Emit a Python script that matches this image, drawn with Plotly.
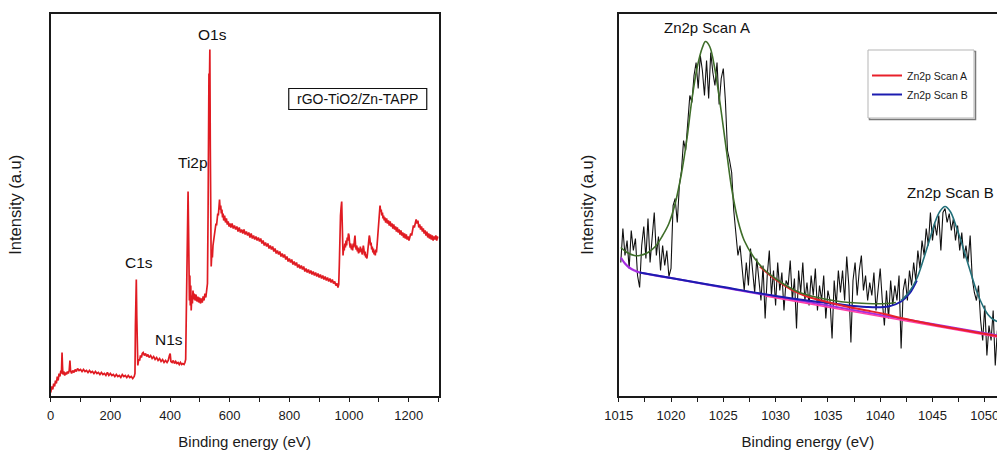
import numpy as np
import plotly.graph_objects as go

FONT = "Liberation Sans, Arial, sans-serif"

# ---------------- Survey spectrum: rGO-TiO2/Zn-TAPP ----------------
survey_energy = [
    0, 4, 7, 10, 13, 16, 19, 22, 25, 28, 31, 34, 36, 38, 39.5, 41, 44, 47, 50, 53, 56, 59, 62, 64.5, 66.5,
    70, 74, 78, 82, 86, 90, 95, 100, 105, 110, 115, 120, 125, 130, 135, 140, 145, 150, 155, 160, 165, 170,
    175, 180, 185, 190, 195, 200, 205, 210, 215, 220, 225, 230, 235, 240, 245, 250, 255, 260, 265, 270, 275,
    280, 282.5, 284, 285.5, 287, 288.5, 290, 292, 295, 298, 301, 304, 307, 310, 314, 318, 322, 326, 330, 335,
    340, 345, 350, 355, 360, 365, 370, 375, 380, 385, 390, 394, 398, 400.5, 403, 407, 411, 415, 419, 423,
    427, 431, 435, 439, 443, 447, 450, 452.5, 454.5, 456.5, 458.5, 460.5, 462, 463.5, 465, 466.5, 468, 469.5,
    471, 473, 475, 477, 479, 481, 484, 487, 490, 493, 496, 499, 502, 505, 508, 511, 514, 517, 520, 523,
    525.5, 527.5, 529, 530.5, 532, 533.5, 535, 536.5, 538, 540, 542, 544, 546, 548, 550, 552, 554, 556, 558,
    560, 562, 564, 566, 568, 570, 572, 574, 576, 578, 580, 583, 586, 589, 592, 595, 598, 601,
    604, 608, 612, 616, 620, 624, 628, 632, 636, 640, 644, 648, 652, 656, 660, 664, 668, 672, 676, 680,
    684, 688, 692, 696, 700, 704, 708, 712, 716, 720, 724, 728, 732, 736, 740, 744, 748, 752, 756, 760,
    764, 768, 772, 776, 780, 784, 788, 792, 796, 800, 804, 808, 812, 816, 820, 824, 828, 832, 836, 840,
    844, 848, 852, 856, 860, 864, 868, 872, 876, 880, 884, 888, 892, 896, 900, 904, 908, 912, 916, 920,
    924, 928, 932, 936, 940, 944, 948, 952, 956, 960, 963, 965.5,
    967.5, 969.5, 971.5, 973.5, 975.5, 977, 978.5, 980, 982, 984, 986, 988, 990, 992, 994, 996, 998, 1000,
    1002, 1004, 1006, 1008, 1010, 1012, 1014, 1016, 1018, 1020, 1022, 1024, 1026, 1028, 1030, 1032, 1034,
    1036, 1038, 1040, 1042, 1044, 1046, 1048, 1050, 1052, 1054, 1056, 1058, 1060, 1062, 1064, 1066, 1068,
    1070, 1072, 1074, 1076, 1078, 1080, 1082, 1084, 1086, 1088, 1090, 1092, 1094, 1096, 1098, 1100, 1102,
    1104, 1106, 1108, 1110, 1112, 1114, 1116, 1118, 1120, 1123, 1126, 1129, 1132, 1135, 1138, 1141, 1144,
    1147, 1150, 1153, 1156, 1159, 1162, 1165, 1168, 1171, 1174, 1177, 1180, 1183, 1186, 1189, 1192, 1195,
    1198, 1201, 1204, 1207, 1210, 1213, 1216, 1219, 1222, 1225, 1228, 1231, 1234, 1237, 1240, 1243, 1246,
    1249, 1252, 1255, 1258, 1261, 1264, 1267, 1270, 1273, 1276, 1279, 1282, 1285, 1288, 1291, 1294, 1297,
    1300,
]
survey_intensity = [
    3, 9, 6, 12, 9, 15, 12, 19, 15, 22, 19, 25, 22, 43, 30, 21, 24, 20, 23, 21, 24, 22, 25, 35, 25,
    22, 25, 23, 26, 24, 27, 25, 26, 24, 26, 24, 25, 23, 25, 23, 24, 22, 24, 22, 23, 21, 23,
    21, 22, 20, 23, 20, 22, 20, 21, 19, 21, 19, 20, 18, 21, 19, 20, 18, 20, 18, 19, 17,
    19, 22, 70, 110, 116, 80, 45, 30, 36, 35, 40, 38, 42, 43, 40, 42, 39, 41, 38, 40,
    37, 39, 36, 38, 35, 37, 34, 36, 33, 35, 33, 35, 40, 42, 34, 33, 35, 32, 34, 32,
    33, 31, 33, 31, 32, 31, 33, 36, 80, 150, 190, 204, 170, 115, 95, 120, 90, 110,
    85, 100, 92, 105, 96, 102, 95, 101, 94, 99, 93, 98, 92, 97, 93, 99, 95, 102, 98, 104,
    112, 180, 300, 322, 310, 346, 250, 150, 129, 142, 138, 150, 155, 160, 165, 168, 172, 170, 178,
    182, 180, 190, 196, 186, 190, 182, 186, 178, 182, 175, 180, 173, 177, 171, 174, 169, 172,
    168, 172, 167, 170, 166, 169, 164, 168, 163, 166, 162, 166, 161, 164, 160, 163, 158, 162, 157, 160,
    156, 159, 155, 158, 154, 157, 152, 155, 150, 153, 149, 152, 147, 150, 146, 149, 144, 147, 142, 145,
    141, 144, 139, 142, 138, 141, 136, 139, 134, 137, 133, 136, 131, 134, 130, 133, 128, 131, 127, 130,
    126, 129, 124, 127, 123, 126, 122, 125, 121, 124, 120, 123, 119, 122, 118, 121, 117, 120, 116, 119,
    115, 118, 114, 117, 113, 116, 112, 114, 110, 112, 108, 111,
    130, 165, 180, 188, 194, 175, 150, 140, 148, 145, 152, 148, 155, 150, 158, 155, 162, 160,
    152, 148, 152, 146, 150, 145, 152, 148, 155, 160, 150, 146, 150, 144, 148, 142, 147,
    143, 149, 144, 147, 141, 145, 150, 146, 140, 144, 138, 141, 137, 142, 148, 155, 160,
    157, 150, 153, 146, 149, 143, 147, 141, 145, 140, 146, 143, 150, 158, 165, 175, 183,
    190, 184, 186, 180, 183, 177, 180, 175, 178, 173, 177, 172, 175, 170, 174, 169, 172,
    167, 171, 166, 169, 164, 168, 163, 166, 161, 165, 160, 163, 158, 162, 157, 161, 156,
    159, 155, 158, 162, 160, 166, 170, 168, 174, 176, 172, 175, 168, 171, 166, 169, 164,
    167, 162, 165, 160, 164, 158, 162, 157, 161, 156, 160, 155, 159, 156, 160, 155, 159,
    157,
]

survey_labels = ["O1s", "Ti2p", "C1s", "N1s"]
survey_label_x = [544, 476, 296, 396]
survey_label_y = [361, 233, 133, 56]

# ---------------- Zn2p high-resolution scan ----------------
scan_start, scan_step = 1015.2, 0.2
zn_counts = [
    133, 167, 140, 155, 127, 165, 145, 157, 120, 108, 150, 169, 137, 177, 133, 163, 183, 140, 159, 125,
    150, 130, 145, 119, 127,
    190, 197, 173, 210, 225,
    255, 245, 277, 300, 293,
    320, 333, 307, 340, 325,
    300, 335, 297, 343, 323,
    310, 333, 291, 317, 327,
    295, 245, 235, 223, 185,
    163, 140, 150, 127, 105,
    133, 110, 147, 125, 103,
    137, 115, 95, 130, 77,
    120, 145, 100, 125, 90,
    133, 105, 123, 85, 115,
    110, 135, 95, 117, 67,
    125, 103, 133, 95, 113,
    90, 120, 100, 127, 85,
    110, 95, 120, 77, 105,
    95, 57, 115, 90, 125,
    103, 125, 95, 139, 110,
    53, 115, 133, 100, 125,
    140, 105, 120, 95, 113,
    100, 123, 85, 107, 127,
    95, 70, 105, 77, 115,
    90, 110, 95, 120, 47,
    105, 117, 95, 125, 110,
    133, 115, 145, 127, 155,
    140, 167, 150, 183, 155,
    173, 160, 180, 145, 183,
    187, 173, 182, 165, 177,
    155, 170, 145, 163, 137,
    150, 133, 160, 117, 103,
    95, 110, 75, 55, 90,
    40, 70, 55, 85, 30, 65,
]
zn_energy = np.round(scan_start + scan_step * np.arange(len(zn_counts)), 1)

# fitted envelope of peak A
fit_a_energy = [1015.2, 1015.8, 1016.5, 1017.0, 1017.8, 1018.5, 1019.2, 1019.8, 1020.4, 1021.0, 1021.5,
                1022.0, 1022.5, 1023.0, 1023.3, 1023.7, 1024.2, 1024.8, 1025.3, 1025.8, 1026.4, 1027.0,
                1028.0, 1029.0, 1030.0, 1031.0, 1032.3, 1034.0, 1035.5, 1037.0, 1038.7, 1040.6, 1041.5]
fit_a_counts = [148, 143, 140, 140, 143, 149, 160, 172, 192, 222, 255,
                296, 328, 348, 354, 349, 326, 284, 245, 207, 175, 155,
                137, 125, 117, 110, 103, 98, 95, 93, 92, 92, 93]

# fitted envelope of peak B
fit_b_energy = [1042.0, 1042.8, 1043.5, 1044.1, 1044.7, 1045.2, 1045.7, 1046.2, 1046.7, 1047.3, 1047.8,
                1048.3, 1048.8, 1049.3, 1049.8, 1050.3, 1050.8, 1051.2]
fit_b_counts = [95, 104, 117, 135, 155, 172, 184, 189, 184, 168, 152,
                135, 118, 102, 90, 81, 76, 74]

# Shirley-type backgrounds
bg_energy = [1015.2, 1015.6, 1016.0, 1016.5, 1017.0, 1020.0, 1025.0, 1030.0, 1035.0, 1040.0, 1045.0, 1051.2]
bg_counts = [138, 132, 128, 125, 123, 117.5, 108, 99, 90, 80.5, 71.5, 60]
bg2_energy = [1029.0, 1035.0, 1040.0, 1045.0, 1051.2]
bg2_counts = [99.5, 88.5, 79, 70, 58.5]

# component curves (Scan A / Scan B)
comp_a_energy = [1028.5, 1030.0, 1031.5, 1033.0, 1034.0, 1035.5, 1037.2, 1038.7, 1040.4, 1042.0, 1045.0, 1051.2]
comp_a_counts = [129, 116, 106, 99, 96, 92, 88, 85, 81.5, 77.5, 71, 59.5]
comp_b_energy = [1017.0, 1020.0, 1025.0, 1030.0, 1033.0, 1035.5, 1038.7, 1040.8, 1042.0, 1042.8, 1043.5]
comp_b_counts = [123, 117.5, 108.5, 99.5, 95, 92, 88.5, 89, 94, 102, 115]

zn_labels = ["Zn2p Scan A", "Zn2p Scan B"]
zn_label_x = [1023.4, 1046.7]
zn_label_y = [368, 203]

# ---------------- figure ----------------
fig = go.Figure()

fig.add_trace(go.Scatter(x=survey_energy, y=survey_intensity, mode="lines",
                         line=dict(color="#e01b22", width=1.7), showlegend=False,
                         xaxis="x", yaxis="y"))

fig.add_trace(go.Scatter(x=zn_energy, y=zn_counts, mode="lines",
                         line=dict(color="#111111", width=1.1), showlegend=False,
                         xaxis="x2", yaxis="y2"))
fig.add_trace(go.Scatter(x=bg_energy, y=bg_counts, mode="lines", line_shape="spline",
                         line=dict(color="#a52ee0", width=2.2), showlegend=False,
                         xaxis="x2", yaxis="y2"))
fig.add_trace(go.Scatter(x=bg2_energy, y=bg2_counts, mode="lines",
                         line=dict(color="#ff3fa8", width=1.6), showlegend=False,
                         xaxis="x2", yaxis="y2"))
fig.add_trace(go.Scatter(x=comp_b_energy, y=comp_b_counts, mode="lines", line_shape="spline",
                         line=dict(color="#1c1cb0", width=2), name="Zn2p Scan B", legendrank=2,
                         xaxis="x2", yaxis="y2"))
fig.add_trace(go.Scatter(x=comp_a_energy, y=comp_a_counts, mode="lines", line_shape="spline",
                         line=dict(color="#e8202a", width=2), name="Zn2p Scan A", legendrank=1,
                         xaxis="x2", yaxis="y2"))
fig.add_trace(go.Scatter(x=fit_a_energy, y=fit_a_counts, mode="lines", line_shape="spline",
                         line=dict(color="#3f6e2a", width=1.6), showlegend=False,
                         xaxis="x2", yaxis="y2"))
fig.add_trace(go.Scatter(x=fit_b_energy, y=fit_b_counts, mode="lines", line_shape="spline",
                         line=dict(color="#23707a", width=1.6), showlegend=False,
                         xaxis="x2", yaxis="y2"))

W, H = 997, 450
y_dom = [1 - 395.5 / H, 1 - 14 / H]

axis_common = dict(showline=True, linecolor="#1a1a1a", linewidth=1.5, showgrid=False, zeroline=False,
                   automargin=False)
xtick_common = dict(ticks="outside", ticklen=5, tickwidth=1.3, tickcolor="#1a1a1a",
                    tickfont=dict(family=FONT, size=13, color="#1a1a1a"), ticklabelstandoff=2)
xtitle_font = dict(family=FONT, size=15, color="#1a1a1a")
ytitle_font = dict(family=FONT, size=16.5, color="#1a1a1a")

fig.update_layout(
    width=W, height=H,
    margin=dict(l=0, r=0, t=0, b=0),
    paper_bgcolor="white", plot_bgcolor="white",
    font=dict(family=FONT, color="#1a1a1a"),
    xaxis=dict(domain=[50.7 / W, 438.5 / W], range=[0, 1300], dtick=200, tick0=0,
               minor=dict(dtick=100, tick0=0, ticks="outside", ticklen=5, tickwidth=1.3, tickcolor="#1a1a1a"),
               mirror=True, anchor="y",
               title=dict(text="Binding energy (eV)", font=xtitle_font, standoff=15),
               **axis_common, **xtick_common),
    yaxis=dict(domain=y_dom, range=[0, 381.5], showticklabels=False, ticks="", mirror=True, anchor="x",
               title=dict(text="Intensity (a.u)", font=ytitle_font, standoff=23),
               **axis_common),
    xaxis2=dict(domain=[618.7 / W, 1.0], range=[1015, 1015 + (W - 618.7) / 10.46], dtick=5, tick0=1015,
                minor=dict(dtick=2.5, tick0=1015, ticks="outside", ticklen=5, tickwidth=1.3, tickcolor="#1a1a1a"),
                mirror=True, anchor="y2", ticklabeloverflow="allow",
                title=dict(text="Binding energy (eV)", font=xtitle_font, standoff=15),
                **axis_common, **xtick_common),
    yaxis2=dict(domain=y_dom, range=[0, 381.5], showticklabels=False, ticks="", mirror=False, anchor="x2",
                title=dict(text="Intensity (a.u)", font=ytitle_font, standoff=19),
                **axis_common),
    legend=dict(x=867 / W, y=1 - 61 / H, xanchor="left", yanchor="top",
                bgcolor="rgba(0,0,0,0)", borderwidth=0, itemwidth=30,
                font=dict(family=FONT, size=10.5, color="#1a1a1a"), tracegroupgap=0),
)

annotations = []
for txt, ex, ey in zip(survey_labels, survey_label_x, survey_label_y):
    annotations.append(dict(text=txt, x=ex, y=ey, xref="x", yref="y", showarrow=False,
                            font=dict(family=FONT, size=15.5, color="#111")))
annotations.append(dict(text="rGO-TiO2/Zn-TAPP", x=1029.5, y=296.5, xref="x", yref="y", showarrow=False,
                        font=dict(family=FONT, size=14, color="#111")))
for txt, ex, ey in zip(zn_labels, zn_label_x, zn_label_y):
    annotations.append(dict(text=txt, x=ex, y=ey, xref="x2", yref="y2", showarrow=False,
                            font=dict(family=FONT, size=15, color="#111")))
fig.update_layout(annotations=annotations)

shapes = [
    # sample label frame
    dict(type="rect", xref="x", yref="y", x0=798, x1=1260.6, y0=286, y1=307,
         line=dict(color="#111", width=1.2), fillcolor="rgba(0,0,0,0)"),
    # legend frame with a light drop shadow
    dict(type="rect", xref="paper", yref="paper", x0=869.5 / W, x1=975.5 / W, y0=1 - 119.5 / H, y1=1 - 51.5 / H,
         line=dict(color="#7a7a7a", width=1.5), fillcolor="#ffffff"),
    dict(type="rect", xref="paper", yref="paper", x0=868 / W, x1=974 / W, y0=1 - 118 / H, y1=1 - 50 / H,
         line=dict(color="#b5b5b5", width=1), fillcolor="#ffffff"),
]
fig.update_layout(shapes=shapes)

fig.write_html("out.html")
